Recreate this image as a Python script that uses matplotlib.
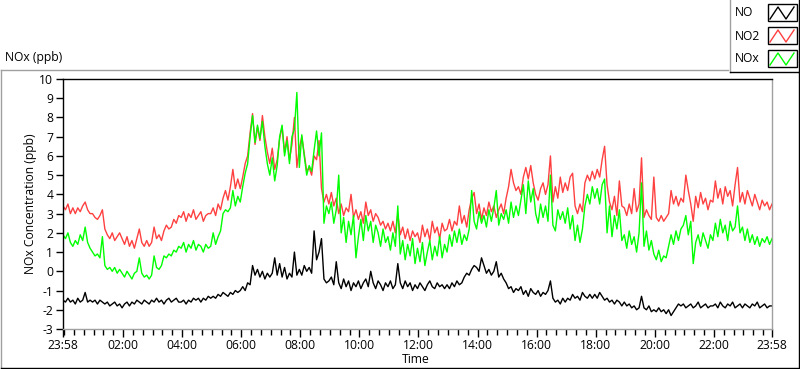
import matplotlib
matplotlib.use("Agg")
import matplotlib.pyplot as plt
from matplotlib.patches import Rectangle
from matplotlib.lines import Line2D
import numpy as np

plt.rcParams['font.family'] = ['Open Sans', 'DejaVu Sans']

# ---- data: 5-minute samples, minutes after 23:58 ----
minutes = list(range(0, 1441, 5))

no2_vals = [
    3.4, 3.2, 3.5, 3.0, 3.3, 3.0, 3.3, 3.1, 3.4, 3.6, 3.2, 3.0,
    3.0, 2.8, 2.7, 2.9, 3.2, 2.2, 1.9, 1.7, 2.0, 1.6, 1.8, 2.0,
    1.7, 1.4, 1.8, 1.3, 1.6, 1.2, 1.7, 2.2, 1.5, 1.3, 1.6, 1.3,
    1.5, 2.3, 1.7, 1.9, 1.6, 2.1, 2.4, 2.2, 2.3, 2.7, 2.5, 2.9,
    2.8, 3.1, 2.6, 3.0, 2.8, 3.2, 2.7, 2.9, 3.1, 2.6, 2.9, 3.0,
    3.0, 3.3, 2.9, 3.5, 3.2, 3.8, 4.2, 3.7, 4.4, 5.3, 4.3, 4.8,
    4.3, 4.9, 5.6, 6.0, 7.2, 8.2, 6.6, 7.5, 6.8, 8.1, 7.0, 6.2,
    5.6, 6.4, 5.3, 5.8, 6.9, 7.5, 6.2, 7.0, 5.8, 6.6, 8.0, 5.4,
    6.4, 7.0, 6.1, 5.2, 5.4, 5.0, 6.0, 5.8, 6.8, 4.3, 3.6, 4.0,
    3.5, 4.1, 3.4, 3.8, 3.0, 3.5, 2.9, 3.3, 3.1, 4.0, 2.8, 3.2,
    2.7, 3.1, 2.5, 3.6, 2.9, 3.2, 2.6, 3.0, 2.8, 2.4, 2.6, 2.2,
    2.5, 2.1, 2.6, 2.0, 3.0, 1.9, 2.3, 1.7, 2.2, 1.6, 2.1, 1.8,
    2.0, 1.5, 2.4, 1.8, 2.2, 1.6, 2.6, 2.0, 2.3, 1.7, 2.5, 2.1,
    2.2, 2.7, 2.1, 2.6, 2.4, 3.4, 2.5, 2.9, 2.3, 3.2, 3.8, 4.1,
    3.0, 3.5, 2.7, 3.3, 2.9, 3.6, 3.1, 3.4, 2.8, 3.2, 3.5, 3.0,
    3.8, 4.4, 5.3, 4.6, 4.2, 4.4, 4.0, 4.9, 5.4, 4.8, 5.5, 4.6,
    4.0, 3.7, 4.3, 4.6, 4.0, 4.5, 6.0, 3.6, 4.4, 3.8, 4.9, 4.1,
    4.6, 4.2, 4.9, 5.1, 3.4, 3.0, 3.5, 3.1, 4.6, 5.0, 4.7, 5.2,
    4.8, 5.3, 4.9, 5.8, 6.5, 4.5, 3.6, 3.2, 3.9, 2.9, 4.7, 3.4,
    3.3, 2.9, 3.5, 3.0, 4.3, 3.1, 3.5, 5.9, 2.8, 3.2, 2.9, 2.7,
    4.9, 2.8, 2.6, 2.9, 2.6, 2.8, 3.0, 4.2, 3.5, 3.9, 3.4, 3.8,
    3.6, 5.0, 4.2, 3.5, 2.6, 3.9, 3.3, 4.1, 3.5, 3.8, 3.2, 3.7,
    3.6, 4.7, 3.8, 4.3, 3.5, 4.4, 3.9, 4.2, 3.4, 4.5, 5.4, 3.6,
    4.1, 3.5, 4.2, 3.8, 3.4, 4.0, 3.6, 3.2, 3.7, 3.4, 3.6, 3.2,
    3.5,
]

nox_vals = [
    1.9, 1.7, 2.0, 1.5, 1.3, 1.6, 1.4, 1.9, 1.6, 2.3, 1.5, 1.2,
    1.0, 0.8, 0.9, 0.7, 1.8, 0.3, 0.1, 0.2, 0.0, 0.2, -0.1, 0.1,
    -0.1, -0.3, 0.0, -0.2, -0.4, -0.1, 0.0, 0.7, -0.1, -0.3, -0.2, -0.4,
    -0.2, 0.8, 0.2, 0.1, 0.3, 0.8, 0.7, 0.9, 0.8, 1.1, 1.0, 1.3,
    1.2, 1.5, 1.0, 1.4, 1.2, 1.6, 1.1, 1.4, 1.3, 1.0, 1.4, 1.2,
    1.3, 2.0, 1.4, 1.8, 2.1, 3.0, 3.2, 3.1, 3.3, 4.2, 3.4, 3.9,
    3.6, 4.4, 5.1, 5.6, 7.0, 8.1, 6.7, 7.6, 6.9, 7.8, 6.5, 5.6,
    5.0, 5.9, 4.7, 5.5, 7.0, 7.6, 6.0, 6.8, 5.6, 7.0, 7.4, 9.3,
    5.4, 7.1, 6.0, 5.0, 5.5, 5.2, 6.3, 7.3, 6.0, 7.2, 2.5, 3.4,
    3.0, 3.6, 2.5, 3.2, 5.0, 2.0, 2.8, 1.5, 2.6, 1.9, 2.9, 0.7,
    1.8, 2.7, 1.6, 2.9, 2.1, 2.6, 1.5, 2.4, 2.0, 1.3, 2.2, 1.5,
    1.8, 1.1, 2.0, 1.3, 3.4, 0.9, 1.6, 0.6, 1.4, 0.8, 1.7, 0.4,
    1.2, 0.5, 1.5, 0.3, 1.0, 1.6, 0.6, 1.3, 0.8, 1.8, 0.7, 1.4,
    1.0, 1.9, 1.3, 2.1, 1.5, 2.2, 1.4, 1.9, 1.6, 2.2, 4.2, 2.6,
    2.2, 3.1, 2.5, 2.9, 2.3, 3.2, 2.6, 3.3, 4.2, 2.4, 3.0, 2.7,
    3.2, 2.5, 3.6, 2.8, 3.4, 2.9, 3.7, 4.5, 3.0, 4.7, 3.6, 4.3,
    3.0, 2.5, 3.5, 2.8, 3.4, 2.6, 5.0, 2.4, 2.1, 3.2, 2.7, 3.1,
    2.5, 3.3, 2.2, 2.9, 1.6, 2.4, 1.5, 2.2, 3.4, 4.0, 3.5, 4.4,
    3.8, 4.3, 3.5, 4.5, 4.8, 2.0, 3.4, 1.8, 2.9, 2.2, 3.2, 1.6,
    1.9, 1.2, 2.1, 1.4, 1.8, 1.0, 2.0, 4.6, 1.3, 2.1, 1.1, 1.6,
    0.9, 0.6, 1.1, 0.5, 0.8, 0.7, 1.3, 1.9, 1.4, 2.1, 1.6, 2.2,
    2.4, 2.9, 1.9, 2.6, 0.4, 1.5, 1.9, 1.3, 2.0, 1.6, 1.2, 1.9,
    1.6, 2.5, 1.8, 2.7, 2.0, 2.4, 1.6, 2.6, 2.1, 2.3, 3.4, 2.0,
    2.3, 1.6, 2.2, 1.5, 1.9, 1.4, 1.8, 1.3, 1.7, 1.5, 1.8, 1.4,
    1.7,
]

no_vals = [
    -1.5, -1.6, -1.4, -1.6, -1.5, -1.7, -1.4, -1.6, -1.5, -1.1, -1.6, -1.5,
    -1.6, -1.5, -1.7, -1.5, -1.6, -1.7, -1.6, -1.8, -1.7, -1.6, -1.8, -1.7,
    -1.9, -1.7, -1.6, -1.8, -1.6, -1.7, -1.5, -1.6, -1.7, -1.5, -1.6, -1.7,
    -1.5, -1.6, -1.4, -1.6, -1.5, -1.7, -1.5, -1.4, -1.6, -1.5, -1.4, -1.6,
    -1.6, -1.5, -1.7, -1.5, -1.6, -1.4, -1.5, -1.4, -1.6, -1.4, -1.5, -1.3,
    -1.4, -1.3, -1.4, -1.2, -1.3, -1.1, -1.2, -1.3, -1.1, -1.2, -1.0, -1.1,
    -1.0, -0.8, -1.0, -0.6, -0.7, 0.3, -0.2, 0.1, -0.3, 0.0, -0.4, -0.1,
    -0.3, -0.1, 0.7, -0.2, 0.4, -0.3, 0.2, -0.4, -0.1, -0.3, 1.0, -0.2,
    0.1, -0.2, 0.3, 0.0, 0.2, -0.1, 2.1, 0.6, 1.0, 1.7, -0.4, -0.6,
    -0.5, -0.3, -0.7, 0.5, -0.6, -0.9, -0.4, -0.8, -0.5, -1.0, -0.6, -0.8,
    -0.5, -0.9, -0.6, -0.4, -0.8, 0.0, -0.6, -0.9, -0.5, -0.7, -1.0, -0.6,
    -0.8, -0.5, -0.9, -0.7, 0.4, -0.6, -0.9, -0.5, -0.8, -0.6, -1.0, -0.7,
    -0.9, -0.6, -0.8, -1.0, -0.7, -0.5, -0.8, -0.9, -0.6, -0.8, -0.7, -0.9,
    -0.7, -0.9, -0.6, -0.8, -0.5, -0.7, -0.6, -0.3, -0.1, -0.2, 0.1, 0.3,
    0.2, 0.0, 0.7, 0.3, -0.1, 0.1, -0.2, 0.0, 0.5, -0.3, -0.1, -0.4,
    -0.6, -0.9, -0.8, -1.1, -0.9, -1.0, -0.8, -1.2, -1.0, -1.3, -0.9, -1.1,
    -1.2, -1.0, -1.3, -1.1, -1.2, -1.0, -0.5, -1.4, -1.6, -1.5, -1.7, -1.4,
    -1.6, -1.4, -1.5, -1.2, -1.4, -1.3, -1.5, -1.1, -1.3, -1.4, -1.2, -1.4,
    -1.2, -1.4, -1.1, -1.3, -1.5, -1.4, -1.6, -1.5, -1.7, -1.5, -1.6, -1.8,
    -1.6, -1.8, -1.7, -1.9, -1.8, -2.0, -1.9, -1.3, -1.9, -2.0, -1.8, -2.1,
    -2.0, -2.1, -1.9, -2.1, -2.0, -2.2, -2.0, -2.3, -2.1, -1.9, -1.7, -1.8,
    -1.7, -1.9, -1.8, -1.7, -1.9, -1.8, -1.6, -1.9, -1.8, -1.7, -1.9, -1.8,
    -1.8, -1.7, -1.9, -1.6, -1.8, -1.9, -1.7, -1.8, -1.6, -1.9, -1.8, -1.7,
    -1.9, -1.7, -1.8, -1.9, -1.7, -1.8, -1.6, -1.9, -1.8, -1.7, -1.9, -1.8,
    -1.8,
]

series_names = ["NO", "NO2", "NOx"]
series_colors = ["#000000", "#ff4040", "#00ff00"]

major_tick_minutes = [-2, 120, 240, 360, 480, 600, 720, 840, 960, 1080, 1200, 1320, 1438]
major_tick_labels = ["23:58", "02:00", "04:00", "06:00", "08:00", "10:00", "12:00",
                     "14:00", "16:00", "18:00", "20:00", "22:00", "23:58"]
y_ticks = list(range(-3, 11))

FS = 8.7
TXT = "#000000"

# ---- figure ----
W, H = 800, 369
fig = plt.figure(figsize=(W / 100, H / 100), dpi=100)
fig.patch.set_facecolor("white")

# background overlay in pixel coordinates
bg = fig.add_axes([0, 0, 1, 1], zorder=0)
bg.set_xlim(0, W)
bg.set_ylim(H, 0)
bg.axis("off")

# panel frame (gray top/left, black bottom/right)
bg.add_line(Line2D([0.5, 728], [69.5, 69.5], color="#a0a0a0", lw=1))
bg.add_line(Line2D([0.5, 0.5], [69.5, 367.5], color="#a0a0a0", lw=1))
bg.add_line(Line2D([0.5, 798.5], [367.5, 367.5], color="#000000", lw=1))
bg.add_line(Line2D([798.5, 798.5], [72, 367.5], color="#000000", lw=1))

# legend box
bg.add_line(Line2D([729.5, 729.5], [0, 72], color="#a0a0a0", lw=1))
bg.add_line(Line2D([729.5, 798.5], [71.5, 71.5], color="#000000", lw=1))
bg.add_line(Line2D([798.5, 798.5], [0, 72], color="#000000", lw=1))
legend_y = [13, 36, 59]
for name, col, yc in zip(series_names, series_colors, legend_y):
    bg.text(735, yc, name, fontsize=FS, ha="left", va="center", color=TXT)
    bg.add_patch(Rectangle((767.5, yc - 9), 29, 17, facecolor="white",
                           edgecolor="#000000", lw=1))
    bg.add_line(Line2D([770, 778, 786, 794], [yc + 6, yc - 6, yc + 6, yc - 6],
                       color=col, lw=1))

# titles
bg.text(5, 58, "NOx (ppb)", fontsize=FS, ha="left", va="center", color=TXT)
bg.text(31, 204, "NOx Concentration (ppb)", fontsize=FS, rotation=90,
        ha="center", va="center", color=TXT)
bg.text(416, 359.5, "Time", fontsize=FS, ha="center", va="center", color=TXT)

# main plot
left, right, top, bottom = 63, 772, 79, 329
ax = fig.add_axes([left / W, 1 - bottom / H, (right - left) / W, (bottom - top) / H], zorder=2)
ax.set_facecolor("white")
x = np.array(minutes) - 2
for vals, col in zip([no_vals, no2_vals, nox_vals], series_colors):
    ax.plot(x, vals, color=col, lw=1.0)

ax.set_xlim(-2, 1438)
ax.set_ylim(-3, 10)
ax.set_yticks(y_ticks)
ax.set_yticklabels([str(v) for v in y_ticks])
ax.set_xticks(major_tick_minutes)
ax.set_xticklabels(major_tick_labels)
minor = [m for m in range(0, 1430, 20) if m % 120 != 0 or m == 0]
ax.set_xticks(minor, minor=True)
ax.tick_params(axis="y", which="major", length=5, width=1, pad=2, labelsize=FS,
               direction="out", colors="#000000", labelcolor=TXT)
ax.tick_params(axis="x", which="major", length=6, width=1, pad=1, labelsize=FS,
               direction="out", colors="#000000", labelcolor=TXT)
ax.tick_params(axis="x", which="minor", length=4, width=1, direction="out", colors="#000000")
ax.spines["top"].set_color("#000000")
ax.spines["left"].set_color("#000000")
ax.spines["right"].set_color("#a0a0a0")
ax.spines["bottom"].set_color("#a0a0a0")
for s in ax.spines.values():
    s.set_linewidth(1)

fig.savefig("out.png", dpi=100)
